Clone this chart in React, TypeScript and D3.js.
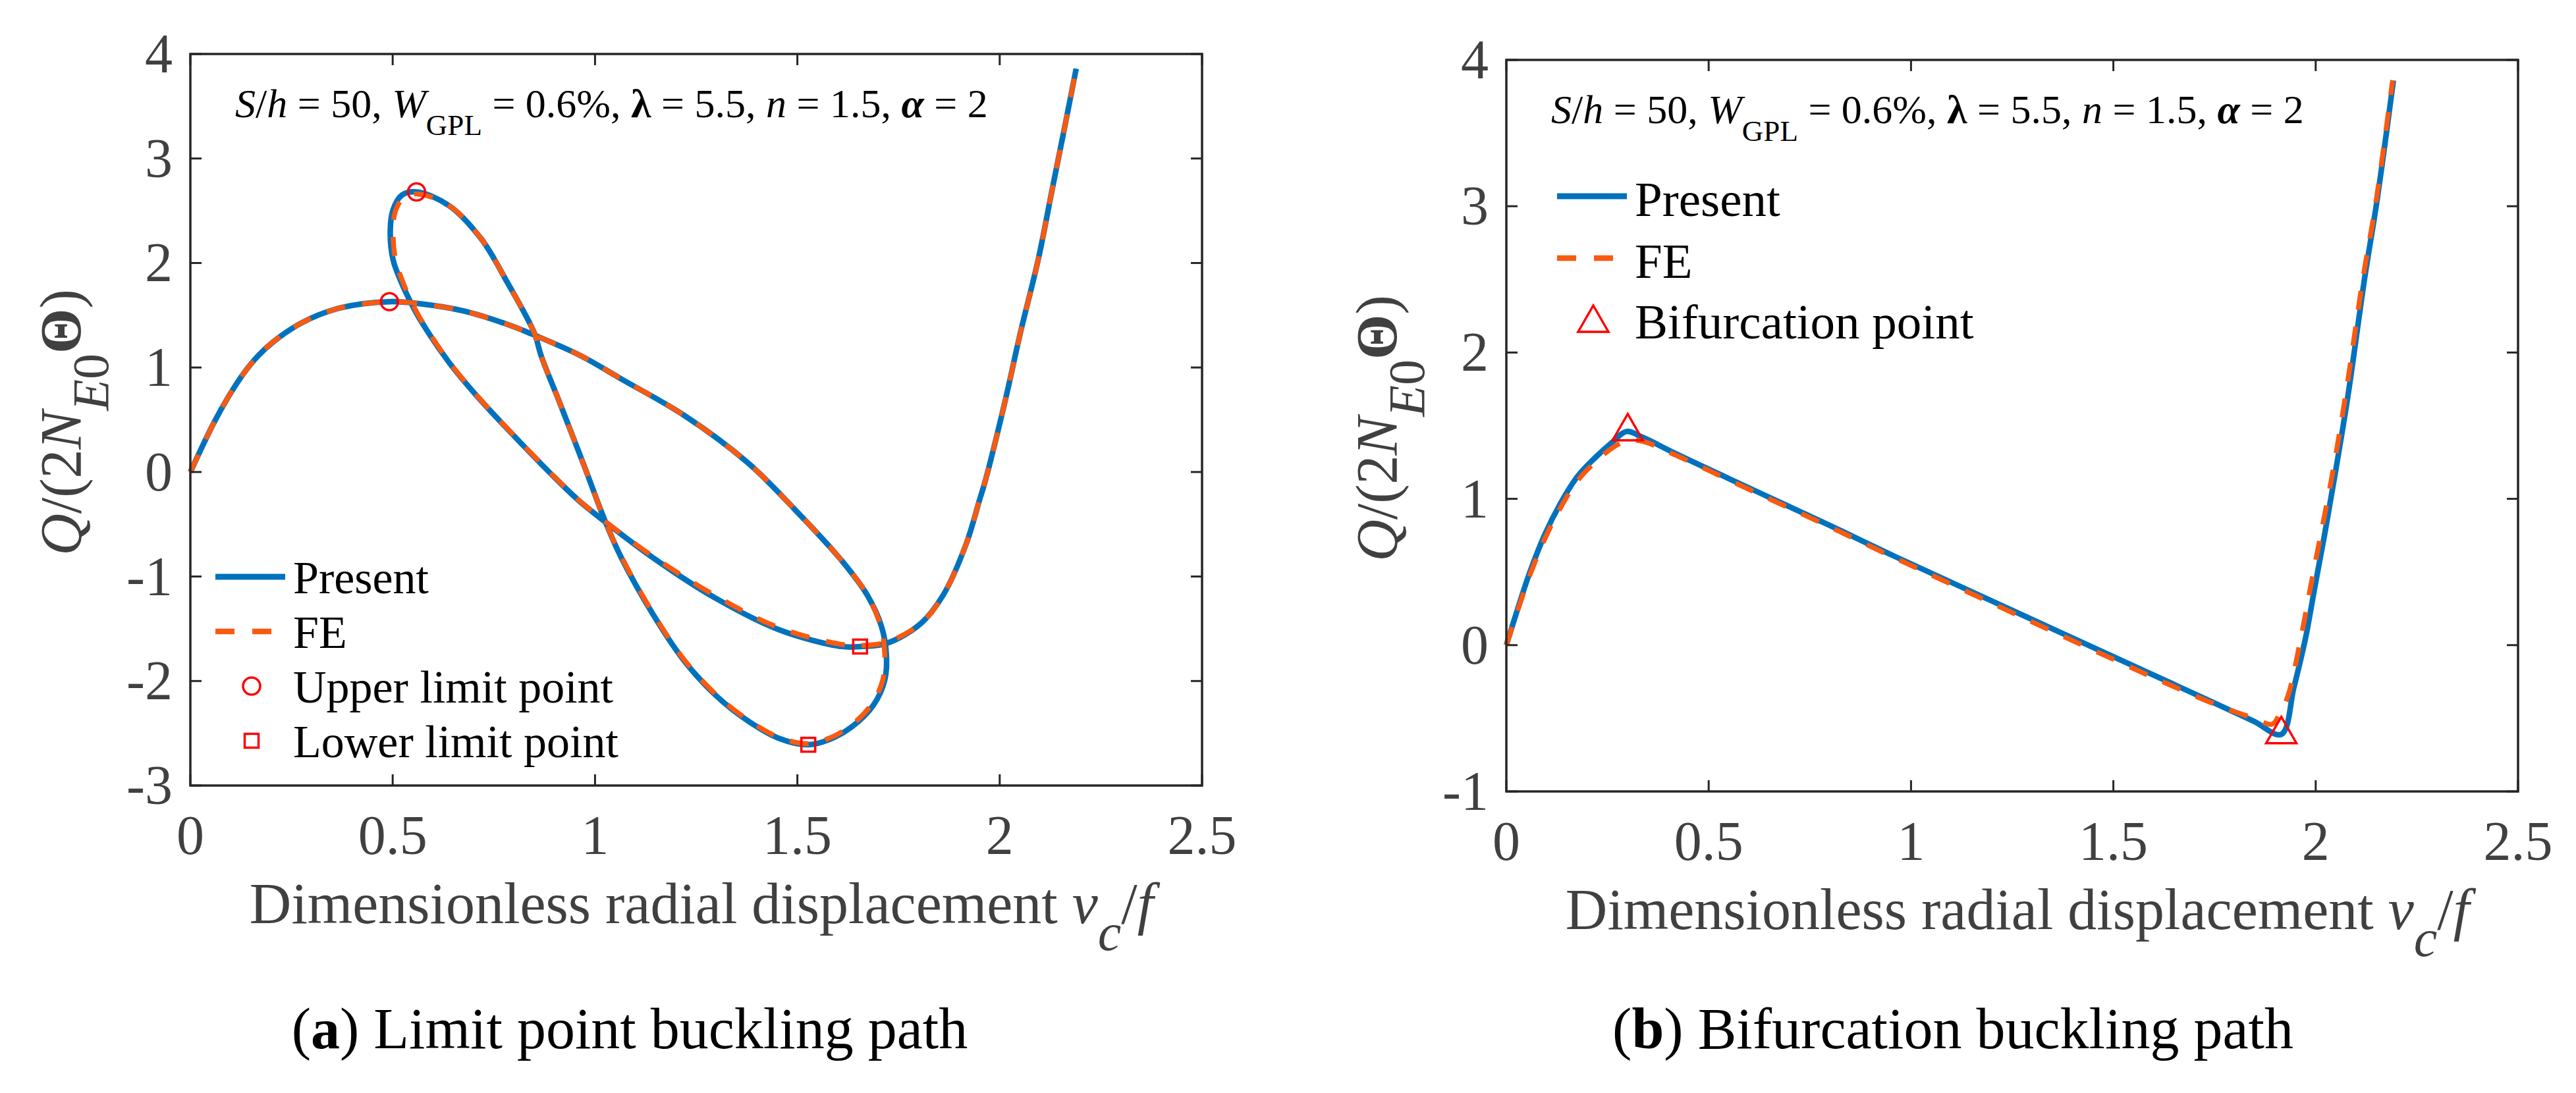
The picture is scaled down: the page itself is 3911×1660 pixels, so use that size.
import React from 'react';
import * as d3 from 'd3';

// ---------- data ----------
const X_TICKS = [0, 0.5, 1, 1.5, 2, 2.5];
const X_TICK_LABELS = ['0', '0.5', '1', '1.5', '2', '2.5'];
const LEFT_Y_TICKS = [-3, -2, -1, 0, 1, 2, 3, 4];
const LEFT_Y_TICK_LABELS = ['-3', '-2', '-1', '0', '1', '2', '3', '4'];
const RIGHT_Y_TICKS = [-1, 0, 1, 2, 3, 4];
const RIGHT_Y_TICK_LABELS = ['-1', '0', '1', '2', '3', '4'];

const LEFT_PRESENT: [number, number][] = [
  [0.0, 0.0], [0.058, 0.47], [0.094, 0.72], [0.131, 0.94], [0.167, 1.11], [0.203, 1.24], [0.276, 1.43], [0.37, 1.57],
  [0.492, 1.63], [0.567, 1.61], [0.676, 1.54], [0.785, 1.41], [0.85, 1.31], [0.966, 1.11],
  [1.065, 0.89], [1.221, 0.54], [1.377, 0.09], [1.494, -0.36], [1.61, -0.85],
  [1.673, -1.18], [1.708, -1.48], [1.72, -1.75], [1.716, -1.99], [1.688, -2.23], [1.634, -2.44],
  [1.579, -2.56], [1.527, -2.61], [1.455, -2.55], [1.377, -2.38], [1.299, -2.14], [1.221, -1.81],
  [1.143, -1.36], [1.065, -0.82], [1.026, -0.48], [0.973, 0.06], [0.913, 0.66], [0.867, 1.11],
  [0.85, 1.33], [0.781, 1.83], [0.719, 2.23], [0.639, 2.55], [0.559, 2.68], [0.523, 2.65],
  [0.501, 2.51], [0.494, 2.31], [0.501, 2.03], [0.523, 1.8], [0.545, 1.62], [0.566, 1.47],
  [0.639, 1.05], [0.712, 0.71], [0.821, 0.26], [0.91, -0.09], [0.959, -0.27], [1.026, -0.48],
  [1.143, -0.82], [1.299, -1.21], [1.455, -1.51], [1.61, -1.67], [1.655, -1.67], [1.72, -1.64],
  [1.805, -1.45], [1.86, -1.18], [1.917, -0.69], [1.95, -0.27], [1.964, -0.09], [2.011, 0.64],
  [2.051, 1.33], [2.095, 2.03], [2.131, 2.73], [2.16, 3.29], [2.189, 3.86],
];

const LEFT_FE: [number, number][] = [
  [0.0, 0.0], [0.058, 0.47], [0.094, 0.72], [0.131, 0.94], [0.167, 1.11], [0.203, 1.24], [0.276, 1.43], [0.37, 1.57],
  [0.492, 1.63], [0.567, 1.61], [0.676, 1.54], [0.785, 1.41], [0.85, 1.31], [0.966, 1.11],
  [1.065, 0.89], [1.221, 0.54], [1.377, 0.09], [1.494, -0.36], [1.61, -0.85],
  [1.673, -1.18], [1.706, -1.48], [1.716, -1.75], [1.711, -1.99], [1.684, -2.22], [1.631, -2.43],
  [1.577, -2.55], [1.527, -2.6], [1.455, -2.54], [1.377, -2.37], [1.299, -2.13], [1.221, -1.8],
  [1.143, -1.35], [1.065, -0.81], [1.026, -0.48], [0.973, 0.06], [0.913, 0.66], [0.867, 1.11],
  [0.85, 1.33], [0.781, 1.83], [0.719, 2.23], [0.639, 2.55], [0.562, 2.66], [0.528, 2.63],
  [0.507, 2.5], [0.501, 2.31], [0.507, 2.03], [0.527, 1.8], [0.548, 1.62], [0.568, 1.47],
  [0.64, 1.05], [0.713, 0.71], [0.822, 0.26], [0.911, -0.09], [0.96, -0.27], [1.027, -0.48],
  [1.144, -0.81], [1.3, -1.19], [1.455, -1.49], [1.61, -1.65], [1.655, -1.66], [1.72, -1.63],
  [1.805, -1.45], [1.86, -1.18], [1.917, -0.69], [1.95, -0.27], [1.964, -0.09], [2.011, 0.64],
  [2.051, 1.33], [2.095, 2.03], [2.131, 2.73], [2.16, 3.29], [2.189, 3.86],
];

const LEFT_UPPER_LIMIT: [number, number][] = [[0.492, 1.63], [0.559, 2.68]];
const LEFT_LOWER_LIMIT: [number, number][] = [[1.655, -1.67], [1.527, -2.61]];

const RIGHT_PRESENT: [number, number][] = [
  [0, 0], [0.026, 0.23], [0.057, 0.49], [0.094, 0.75], [0.132, 0.96], [0.175, 1.15],
  [0.219, 1.28], [0.263, 1.39], [0.297, 1.46], [0.337, 1.42], [0.425, 1.3], [0.611, 1.06],
  [0.798, 0.82], [0.965, 0.6], [1.73, -0.37], [1.847, -0.52], [1.915, -0.61], [1.946, -0.29],
  [1.975, 0.05], [1.998, 0.4], [2.021, 0.74], [2.048, 1.17], [2.08, 1.71], [2.121, 2.51],
  [2.151, 3.03], [2.192, 3.86],
];

const RIGHT_FE: [number, number][] = [
  [0, 0], [0.026, 0.22], [0.057, 0.47], [0.094, 0.72], [0.132, 0.93], [0.175, 1.12],
  [0.219, 1.25], [0.263, 1.35], [0.3, 1.4], [0.34, 1.39], [0.425, 1.29], [0.611, 1.05],
  [0.798, 0.81], [0.965, 0.59], [1.73, -0.38], [1.847, -0.5], [1.893, -0.54], [1.912, -0.46],
  [1.931, -0.35], [1.962, 0.03], [1.986, 0.38], [2.01, 0.72], [2.04, 1.15], [2.074, 1.71],
  [2.117, 2.51], [2.149, 3.03], [2.19, 3.86],
];

const RIGHT_BIFURCATION: [number, number][] = [[0.3, 1.49], [1.915, -0.58]];

const LEFT_LEGEND = ['Present', 'FE', 'Upper limit point', 'Lower limit point'];
const RIGHT_LEGEND = ['Present', 'FE', 'Bifurcation point'];
const CAPTION_LETTERS = ['a', 'b'];
const CAPTION_TEXTS = [' Limit point buckling path', ' Bifurcation buckling path'];

// ---------- style ----------
const BLUE = '#0072BD';
const ORANGE = '#FA5A0F';
const RED = '#FF0000';
const AXIS = '#262626';
const TICKTXT = '#404040';
const SERIF = '"Liberation Serif", "Times New Roman", Times, serif';

type Pt = [number, number];
type MarkerKind = 'circle' | 'square' | 'triangle';

function Marker({ kind, cx, cy }: { kind: MarkerKind; cx: number; cy: number }) {
  const common = { fill: 'none', stroke: RED, strokeWidth: 3.5 };
  if (kind === 'circle') return <circle cx={cx} cy={cy} r={13} {...common} />;
  if (kind === 'square') return <rect x={cx - 10.5} y={cy - 10.5} width={21} height={21} {...common} />;
  return <path d={`M${cx},${cy - 20}L${cx + 23},${cy + 20}L${cx - 23},${cy + 20}Z`} {...common} strokeLinejoin="miter" />;
}

interface PanelProps {
  box: { x0: number; x1: number; y0: number; y1: number };
  yDomain: [number, number];
  yTicks: number[];
  yTickLabels: string[];
  present: Pt[];
  fe: Pt[];
  markerSets: { kind: MarkerKind; pts: Pt[] }[];
  legend: { labels: string[]; kinds: ('line' | 'dash' | MarkerKind)[]; x: number; rows: number[]; textDy: number; fontSize: number };
  caption: { letter: string; text: string; cx: number; y: number };
}

function Panel(p: PanelProps) {
  const { box } = p;
  const x = d3.scaleLinear().domain([0, 2.5]).range([box.x0, box.x1]);
  const y = d3.scaleLinear().domain(p.yDomain).range([box.y1, box.y0]);
  const line = d3
    .line<Pt>()
    .x((d) => x(d[0]))
    .y((d) => y(d[1]))
    .curve(d3.curveCatmullRom.alpha(0.5));
  const tickLen = 17;
  const cxMid = (box.x0 + box.x1) / 2;
  const cyMid = (box.y0 + box.y1) / 2;
  return (
    <g>
      {/* curves */}
      <path d={line(p.present) || ''} fill="none" stroke={BLUE} strokeWidth={8.5} strokeLinejoin="round" />
      <path d={line(p.fe) || ''} fill="none" stroke={ORANGE} strokeWidth={7.5} strokeDasharray="29,26" />
      {p.markerSets.map((ms, i) =>
        ms.pts.map((d, j) => <Marker key={`${i}-${j}`} kind={ms.kind} cx={x(d[0])} cy={y(d[1])} />)
      )}
      {/* box */}
      <rect x={box.x0} y={box.y0} width={box.x1 - box.x0} height={box.y1 - box.y0} fill="none" stroke={AXIS} strokeWidth={3.5} />
      {X_TICKS.map((t) => (
        <g key={'xt' + t}>
          <line x1={x(t)} x2={x(t)} y1={box.y1} y2={box.y1 - tickLen} stroke={AXIS} strokeWidth={3} />
          <line x1={x(t)} x2={x(t)} y1={box.y0} y2={box.y0 + tickLen} stroke={AXIS} strokeWidth={3} />
        </g>
      ))}
      {p.yTicks.map((t) => (
        <g key={'yt' + t}>
          <line x1={box.x0} x2={box.x0 + tickLen} y1={y(t)} y2={y(t)} stroke={AXIS} strokeWidth={3} />
          <line x1={box.x1} x2={box.x1 - tickLen} y1={y(t)} y2={y(t)} stroke={AXIS} strokeWidth={3} />
        </g>
      ))}
      {/* tick labels */}
      {X_TICKS.map((t, i) => (
        <text key={'xl' + t} x={x(t)} y={box.y1 + 104} textAnchor="middle" fontFamily={SERIF} fontSize={84} fill={TICKTXT}>
          {X_TICK_LABELS[i]}
        </text>
      ))}
      {p.yTicks.map((t, i) => (
        <text key={'yl' + t} x={box.x0 - 27} y={y(t) + 28} textAnchor="end" fontFamily={SERIF} fontSize={84} fill={TICKTXT}>
          {p.yTickLabels[i]}
        </text>
      ))}
      {/* x label */}
      <text x={cxMid + 8} y={box.y1 + 209} textAnchor="middle" fontFamily={SERIF} fontSize={88} fill={TICKTXT} style={{ whiteSpace: 'pre' }}>
        <tspan>{'Dimensionless radial displacement '}</tspan>
        <tspan fontStyle="italic">v</tspan>
        <tspan fontStyle="italic" dy={41} fontSize={80}>c</tspan>
        <tspan dy={-41}>/</tspan>
        <tspan fontStyle="italic">f</tspan>
      </text>
      {/* y label */}
      <text transform={`translate(${box.x0 - 167},${cyMid + 4}) rotate(-90)`} textAnchor="middle" fontFamily={SERIF} fontSize={88} fill={TICKTXT} style={{ whiteSpace: 'pre' }}>
        <tspan fontStyle="italic">Q</tspan>
        <tspan>/(2</tspan>
        <tspan fontStyle="italic">N</tspan>
        <tspan dy={42} fontSize={78} fontStyle="italic">E</tspan>
        <tspan fontSize={78}>0</tspan>
        <tspan dy={-42} fontWeight="bold">Θ</tspan>
        <tspan>)</tspan>
      </text>
      {/* annotation */}
      <text x={box.x0 + 68} y={box.y0 + 96} fontFamily={SERIF} fontSize={62} fill="#000" style={{ whiteSpace: 'pre' }}>
        <tspan fontStyle="italic">S</tspan>
        <tspan>/</tspan>
        <tspan fontStyle="italic">h</tspan>
        <tspan>{' = 50, '}</tspan>
        <tspan fontStyle="italic">W</tspan>
        <tspan dy={27} fontSize={45}>GPL</tspan>
        <tspan dy={-27}>{' = 0.6%, '}</tspan>
        <tspan fontWeight="bold">λ</tspan>
        <tspan>{' = 5.5, '}</tspan>
        <tspan fontStyle="italic">n</tspan>
        <tspan>{' = 1.5, '}</tspan>
        <tspan fontStyle="italic" fontWeight="bold">α</tspan>
        <tspan>{' = 2'}</tspan>
      </text>
      {/* legend */}
      {p.legend.labels.map((lab, i) => {
        const ry = p.legend.rows[i];
        const lx = p.legend.x;
        const kind = p.legend.kinds[i];
        return (
          <g key={'lg' + i}>
            {kind === 'line' && <line x1={lx} x2={lx + 106} y1={ry} y2={ry} stroke={BLUE} strokeWidth={9} />}
            {kind === 'dash' && <line x1={lx} x2={lx + 106} y1={ry} y2={ry} stroke={ORANGE} strokeWidth={8.5} strokeDasharray="29,27" />}
            {(kind === 'circle' || kind === 'square' || kind === 'triangle') && <Marker kind={kind} cx={lx + 55} cy={ry} />}
            <text x={lx + 118} y={ry + p.legend.textDy} fontFamily={SERIF} fontSize={p.legend.fontSize} fill="#000">
              {lab}
            </text>
          </g>
        );
      })}
      {/* caption */}
      <text x={p.caption.cx} y={p.caption.y} textAnchor="middle" fontFamily={SERIF} fontSize={88} fill="#000" style={{ whiteSpace: 'pre' }}>
        <tspan>(</tspan>
        <tspan fontWeight="bold">{p.caption.letter}</tspan>
        <tspan>)</tspan>
        <tspan>{p.caption.text}</tspan>
      </text>
    </g>
  );
}

export default function App() {
  return (
    <svg width={3911} height={1660} viewBox="0 0 3911 1660" style={{ position: 'absolute', left: 0, top: 0, background: '#fff' }}>
      <rect x={0} y={0} width={3911} height={1660} fill="#fff" />
      <Panel
        box={{ x0: 289, x1: 1825, y0: 82, y1: 1193 }}
        yDomain={[-3, 4]}
        yTicks={LEFT_Y_TICKS}
        yTickLabels={LEFT_Y_TICK_LABELS}
        present={LEFT_PRESENT}
        fe={LEFT_FE}
        markerSets={[
          { kind: 'circle', pts: LEFT_UPPER_LIMIT },
          { kind: 'square', pts: LEFT_LOWER_LIMIT },
        ]}
        legend={{ labels: LEFT_LEGEND, kinds: ['line', 'dash', 'circle', 'square'], x: 327, rows: [876, 959, 1042, 1125], textDy: 25, fontSize: 70 }}
        caption={{ letter: CAPTION_LETTERS[0], text: CAPTION_TEXTS[0], cx: 956, y: 1592 }}
      />
      <Panel
        box={{ x0: 2287, x1: 3823, y0: 91, y1: 1202 }}
        yDomain={[-1, 4]}
        yTicks={RIGHT_Y_TICKS}
        yTickLabels={RIGHT_Y_TICK_LABELS}
        present={RIGHT_PRESENT}
        fe={RIGHT_FE}
        markerSets={[{ kind: 'triangle', pts: RIGHT_BIFURCATION }]}
        legend={{ labels: RIGHT_LEGEND, kinds: ['line', 'dash', 'triangle'], x: 2364, rows: [298, 392, 484], textDy: 30, fontSize: 75 }}
        caption={{ letter: CAPTION_LETTERS[1], text: CAPTION_TEXTS[1], cx: 2965, y: 1592 }}
      />
    </svg>
  );
}
